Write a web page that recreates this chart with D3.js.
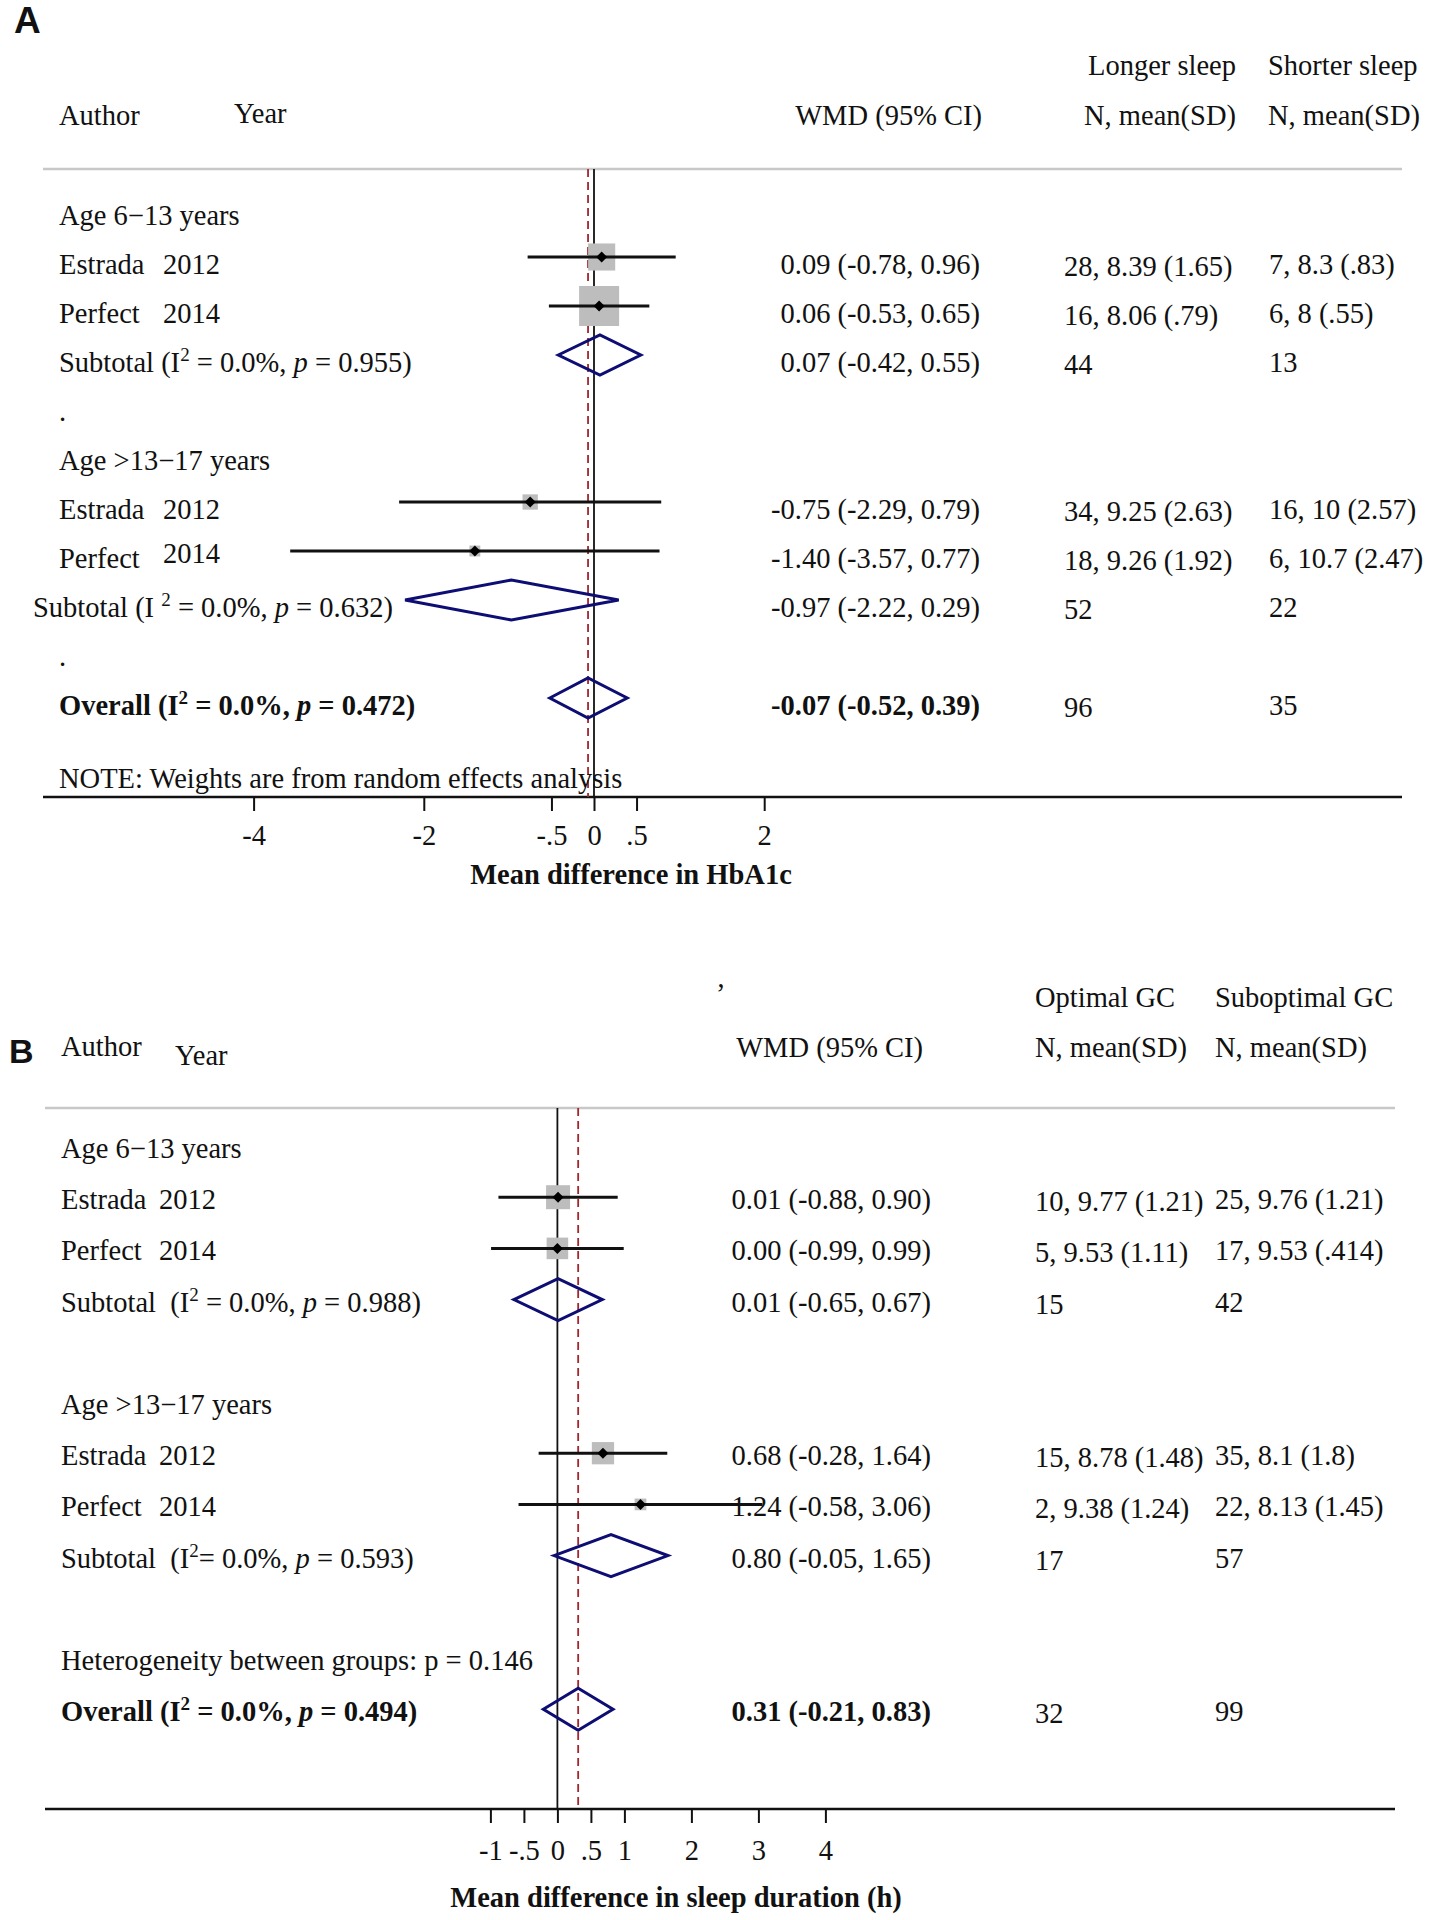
<!DOCTYPE html>
<html><head><meta charset="utf-8">
<script src="https://cdn.jsdelivr.net/npm/d3@7"></script>
<style>
body{margin:0;background:#fff}
svg text{font-family:"Liberation Serif","Times New Roman",serif;white-space:pre;fill:#111}
</style></head><body>
<svg id="c" width="1432" height="1920"></svg>
<script>
// ---------- Panel A : HbA1c ----------
const aLabels = ["Age 6−13 years","Estrada","Perfect","Subtotal (I^2 = 0.0%, *p* = 0.955)",".","Age >13−17 years","Estrada","Perfect","Subtotal (I ^2 = 0.0%, *p* = 0.632)",".","Overall (I^2 = 0.0%, *p* = 0.472)"];
const aYears = ["","2012","2014","","","","2012","2014","","",""];
const aType = ["group","study","study","sub","blank","group","study","study","sub","blank","overall"];
const aEst = [null,0.09,0.06,0.07,null,null,-0.75,-1.40,-0.97,null,-0.07];
const aLo  = [null,-0.78,-0.53,-0.42,null,null,-2.29,-3.57,-2.22,null,-0.52];
const aHi  = [null,0.96,0.65,0.55,null,null,0.79,0.77,0.29,null,0.39];
const aWeight = [null,27.3,59.5,null,null,null,8.7,4.4,null,null,null];
const aCol1 = ["","28, 8.39 (1.65)","16, 8.06 (.79)","44","","","34, 9.25 (2.63)","18, 9.26 (1.92)","52","","96"];
const aCol2 = ["","7, 8.3 (.83)","6, 8 (.55)","13","","","16, 10 (2.57)","6, 10.7 (2.47)","22","","35"];
const aHead1 = ["Longer sleep","N, mean(SD)"];
const aHead2 = ["Shorter sleep","N, mean(SD)"];
const aTicks = [-4,-2,-0.5,0,0.5,2];
const aTickLabels = ["-4","-2","-.5","0",".5","2"];
const aTitle = "Mean difference in HbA1c";
const aNote = "NOTE: Weights are from random effects analysis";

// ---------- Panel B : sleep duration ----------
const bLabels = ["Age 6−13 years","Estrada","Perfect","Subtotal  (I^2 = 0.0%, *p* = 0.988)","","Age >13−17 years","Estrada","Perfect","Subtotal  (I^2= 0.0%, *p* = 0.593)","","Heterogeneity between groups: p = 0.146","Overall (I^2 = 0.0%, *p* = 0.494)"];
const bYears = ["","2012","2014","","","","2012","2014","","","",""];
const bType = ["group","study","study","sub","blank","group","study","study","sub","blank","text","overall"];
const bEst = [null,0.01,0.00,0.01,null,null,0.68,1.24,0.80,null,null,0.31];
const bLo  = [null,-0.88,-0.99,-0.65,null,null,-0.28,-0.58,-0.05,null,null,-0.21];
const bHi  = [null,0.90,0.99,0.67,null,null,1.64,3.06,1.65,null,null,0.83];
const bWeight = [null,34.4,27.8,null,null,null,29.6,8.2,null,null,null,null];
const bCol1 = ["","10, 9.77 (1.21)","5, 9.53 (1.11)","15","","","15, 8.78 (1.48)","2, 9.38 (1.24)","17","","","32"];
const bCol2 = ["","25, 9.76 (1.21)","17, 9.53 (.414)","42","","","35, 8.1 (1.8)","22, 8.13 (1.45)","57","","","99"];
const bHead1 = ["Optimal GC","N, mean(SD)"];
const bHead2 = ["Suboptimal GC","N, mean(SD)"];
const bTicks = [-1,-0.5,0,0.5,1,2,3,4];
const bTickLabels = ["-1","-.5","0",".5","1","2","3","4"];
const bTitle = "Mean difference in sleep duration (h)";

const svg = d3.select("#c");
const FS = 28.5;
const fmt = v => v.toFixed(2);

function richText(g, str, x, y, opts) {
  const t = g.append("text").attr("x", x).attr("y", y).attr("font-size", FS)
    .attr("text-anchor", opts.anchor || "start")
    .attr("font-weight", opts.bold ? "bold" : "normal");
  const parts = str.split(/(\^2|\*p\*)/);
  let raised = false;
  parts.forEach(p => {
    if (p === "") return;
    if (p === "^2") {
      t.append("tspan").attr("font-size", 19).attr("dy", -11).text("2");
      raised = true;
    } else if (p === "*p*") {
      const s = t.append("tspan").attr("font-style", "italic").text("p");
      if (raised) { s.attr("dy", 11); raised = false; }
    } else {
      const s = t.append("tspan").text(p);
      if (raised) { s.attr("dy", 11); raised = false; }
    }
  });
  return t;
}

function drawPanel(d, L) {
  const g = svg.append("g");
  const n = d.labels.length;
  const x = d3.scaleLinear().domain(L.xDomain).range(L.xRange);
  const yb = d3.scaleLinear().domain([0, n - 1]).range([L.y0, L.y0 + L.dy * (n - 1)]);
  const size = d3.scaleSqrt().domain([0, d3.max(d.weight)]).range([0, L.maxSq]);

  g.append("text").attr("x", L.letter[0]).attr("y", L.letter[1])
    .style("font-family", "'Liberation Sans',Arial,sans-serif")
    .attr("font-weight", "bold").attr("font-size", L.letter[2]).text(L.letterText);

  g.append("text").attr("x", L.authorX).attr("y", L.authorY).attr("font-size", FS).text("Author");
  g.append("text").attr("x", L.yearHX).attr("y", L.yearHY).attr("font-size", FS).text("Year");
  g.append("text").attr("x", L.wmdHX).attr("y", L.headY2).attr("font-size", FS).attr("text-anchor", "end").text("WMD (95% CI)");
  d.head1.forEach((h, i) => g.append("text").attr("x", L.h1X).attr("y", i ? L.headY2 : L.headY1)
    .attr("font-size", FS).attr("text-anchor", L.h1Anchor).text(h));
  d.head2.forEach((h, i) => g.append("text").attr("x", L.h2X).attr("y", i ? L.headY2 : L.headY1)
    .attr("font-size", FS).text(h));
  if (L.extra) g.append("text").attr("x", L.extra[0]).attr("y", L.extra[1]).attr("font-size", FS).text(L.extra[2]);

  g.append("line").attr("x1", L.lineX[0]).attr("x2", L.lineX[1]).attr("y1", L.grayY).attr("y2", L.grayY)
    .attr("stroke", "#c8c8c8").attr("stroke-width", 2.5);
  g.append("line").attr("x1", L.lineX[0]).attr("x2", L.lineX[1]).attr("y1", L.axisY).attr("y2", L.axisY)
    .attr("stroke", "#111").attr("stroke-width", 2.5);

  g.append("line").attr("x1", x(0)).attr("x2", x(0)).attr("y1", L.grayY).attr("y2", L.axisY)
    .attr("stroke", "#111").attr("stroke-width", 1.8);
  const ov = d.type.indexOf("overall");
  g.append("line").attr("x1", x(d.est[ov])).attr("x2", x(d.est[ov])).attr("y1", L.grayY).attr("y2", L.axisY)
    .attr("stroke", "#a3262e").attr("stroke-width", 1.8).attr("stroke-dasharray", "8,5");

  d.labels.forEach((lab, i) => {
    const y = yb(i);
    const bold = d.type[i] === "overall";
    if (lab) richText(g, lab, L.labelX + ((L.labelShift || {})[i] || 0), y, { bold });
    if (d.years[i]) g.append("text").attr("x", L.yearX).attr("y", y + ((L.yearDy || {})[i] || 0))
      .attr("font-size", FS).text(d.years[i]);
    if (d.est[i] != null) {
      g.append("text").attr("x", L.wmdX).attr("y", y).attr("font-size", FS).attr("text-anchor", "end")
        .attr("font-weight", bold ? "bold" : "normal")
        .text(`${fmt(d.est[i])} (${fmt(d.lo[i])}, ${fmt(d.hi[i])})`);
    }
    if (d.col1[i]) g.append("text").attr("x", L.c1X).attr("y", y + 2).attr("font-size", FS).text(d.col1[i]);
    if (d.col2[i]) g.append("text").attr("x", L.c2X).attr("y", y).attr("font-size", FS).text(d.col2[i]);

    const my = y - L.markOff;
    if (d.type[i] === "study") {
      const s = size(d.weight[i]);
      g.append("rect").attr("x", x(d.est[i]) - s / 2).attr("y", my - s / 2).attr("width", s).attr("height", s)
        .attr("fill", "#bdbdbd");
      g.append("line").attr("x1", x(d.lo[i])).attr("x2", x(d.hi[i])).attr("y1", my).attr("y2", my)
        .attr("stroke", "#111").attr("stroke-width", 3);
      const cx = x(d.est[i]), r = 5.5;
      g.append("path").attr("d", `M${cx - r},${my}L${cx},${my - r}L${cx + r},${my}L${cx},${my + r}Z`).attr("fill", "#000");
    } else if (d.type[i] === "sub" || d.type[i] === "overall") {
      const h = L.diaH;
      const pts = [[x(d.lo[i]), my], [x(d.est[i]), my - h], [x(d.hi[i]), my], [x(d.est[i]), my + h]];
      g.append("path").attr("d", "M" + pts.join("L") + "Z").attr("fill", "none")
        .attr("stroke", "#0d0d73").attr("stroke-width", 3).attr("stroke-linejoin", "miter");
    }
  });

  if (L.note) g.append("text").attr("x", L.labelX).attr("y", L.noteY).attr("font-size", FS).text(L.note);

  const ax = g.append("g").attr("transform", `translate(0,${L.axisY})`)
    .call(d3.axisBottom(x).tickValues(d.ticks).tickFormat((t, i) => d.tickLabels[i]).tickSize(14));
  ax.select(".domain").remove();
  ax.selectAll(".tick line").attr("stroke", "#111").attr("stroke-width", 2);
  ax.selectAll(".tick text").attr("font-size", FS).attr("font-family", null).attr("y", L.tickLabelOff).attr("dy", 0)
    .style("fill", "#111");
  g.append("text").attr("x", L.titleX).attr("y", L.titleY).attr("font-size", FS).attr("font-weight", "bold")
    .attr("text-anchor", "middle").text(d.title);
}

drawPanel(
  { labels: aLabels, years: aYears, type: aType, est: aEst, lo: aLo, hi: aHi, weight: aWeight,
    col1: aCol1, col2: aCol2, head1: aHead1, head2: aHead2, ticks: aTicks, tickLabels: aTickLabels, title: aTitle },
  { xDomain: [-4, 2], xRange: [253.6, 764.2], y0: 225, dy: 49, maxSq: 40, markOff: 17, diaH: 20,
    letter: [14, 33, 37], letterText: "A",
    authorX: 59, authorY: 125, yearHX: 234, yearHY: 123, wmdHX: 982, headY1: 75, headY2: 125,
    h1X: 1236, h1Anchor: "end", h2X: 1268,
    lineX: [43, 1402], grayY: 169, axisY: 797,
    labelX: 59, labelShift: { 8: -26 }, yearX: 163, yearDy: { 7: -5 },
    wmdX: 980, c1X: 1064, c2X: 1269,
    note: aNote, noteY: 788, tickLabelOff: 48, titleX: 631, titleY: 884 }
);

drawPanel(
  { labels: bLabels, years: bYears, type: bType, est: bEst, lo: bLo, hi: bHi, weight: bWeight,
    col1: bCol1, col2: bCol2, head1: bHead1, head2: bHead2, ticks: bTicks, tickLabels: bTickLabels, title: bTitle },
  { xDomain: [-1, 4], xRange: [490.4, 825.4], y0: 1158, dy: 51.2, maxSq: 24, markOff: 12, diaH: 21,
    letter: [9, 1063, 34], letterText: "B",
    authorX: 61, authorY: 1056, yearHX: 175, yearHY: 1065, wmdHX: 923, headY1: 1007, headY2: 1057,
    h1X: 1035, h1Anchor: "start", h2X: 1215, extra: [716, 1003, "’"],
    lineX: [45, 1395], grayY: 1108, axisY: 1809,
    labelX: 61, yearX: 159,
    wmdX: 931, c1X: 1035, c2X: 1215,
    tickLabelOff: 51, titleX: 676, titleY: 1907 }
);
</script>
</body></html>
